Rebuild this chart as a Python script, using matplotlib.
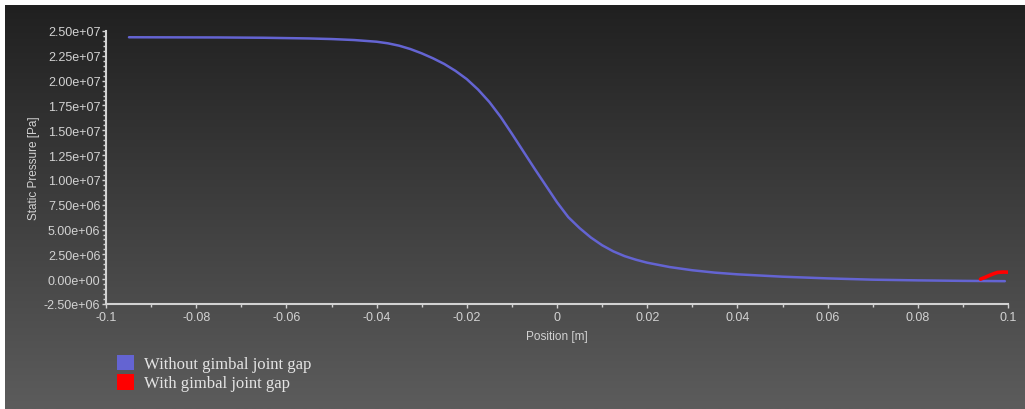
import matplotlib.pyplot as plt
import numpy as np
from matplotlib.colors import LinearSegmentedColormap
from matplotlib.patches import Patch
from matplotlib.ticker import AutoMinorLocator, FormatStrFormatter, MultipleLocator

# static pressure along the nozzle axis
POS_NO_GAP = [-0.0949, -0.085, -0.075, -0.065, -0.055, -0.05, -0.045, -0.04, -0.0375,
              -0.035, -0.0325, -0.03, -0.0275, -0.025, -0.0225, -0.02, -0.0175,
              -0.015, -0.0125, -0.01, -0.0075, -0.005, -0.0025, 0.0, 0.0025, 0.005,
              0.0075, 0.01, 0.0125, 0.015, 0.0175, 0.02, 0.025, 0.03, 0.035, 0.04,
              0.05, 0.06, 0.07, 0.08, 0.09, 0.0993]
P_NO_GAP = [2.437e7, 2.436e7, 2.435e7, 2.432e7, 2.425e7, 2.419e7, 2.409e7, 2.392e7,
            2.376e7, 2.352e7, 2.318e7, 2.275e7, 2.225e7, 2.168e7, 2.098e7, 2.015e7,
            1.91e7, 1.785e7, 1.635e7, 1.465e7, 1.29e7, 1.115e7, 0.945e7, 0.775e7,
            0.625e7, 0.515e7, 0.42e7, 0.342e7, 0.28e7, 0.232e7, 0.196e7, 0.166e7,
            0.122e7, 0.09e7, 0.066e7, 0.049e7, 0.025e7, 0.008e7, -0.005e7,
            -0.012e7, -0.017e7, -0.02e7]

POS_GAP = [0.0939, 0.0950, 0.0960, 0.0970, 0.0977, 0.0990, 0.1002]
P_GAP = [0.0e6, 0.2e6, 0.4e6, 0.58e6, 0.68e6, 0.72e6, 0.70e6]

LABELS = ['Without gimbal joint gap', 'With gimbal joint gap']
COLORS = ['#6464d2', '#ff0000']

fg = '#d2d2d2'
plt.rcParams['font.family'] = ['Liberation Sans', 'DejaVu Sans']

fig = plt.figure(figsize=(10.25, 4.1), dpi=100)
fig.patch.set_facecolor('white')

# gradient background, leaving the thin white strip at top and left
bg = fig.add_axes([5 / 1025, 0, 1 - 5 / 1025, 1 - 6 / 410], zorder=-10)
grad = np.linspace(0, 1, 256).reshape(-1, 1)
bg.imshow(grad, aspect='auto', extent=[0, 1, 0, 1],
          cmap=LinearSegmentedColormap.from_list('bg', ['#202020', '#5c5c5c']))
bg.set_axis_off()

ax = fig.add_axes([106 / 1025, 105 / 410, 902 / 1025, 273 / 410])
ax.set_facecolor('none')

ax.plot(POS_NO_GAP, P_NO_GAP, color=COLORS[0], lw=1.8, solid_capstyle='round',
        solid_joinstyle='round')
ax.plot(POS_GAP, P_GAP, color=COLORS[1], lw=2.6, solid_capstyle='round')

ax.set_xlim(-0.1, 0.1)
ax.set_ylim(-2.5e6, 2.5e7)
ax.xaxis.set_major_locator(MultipleLocator(0.02))
ax.xaxis.set_minor_locator(AutoMinorLocator(2))
ax.yaxis.set_major_locator(MultipleLocator(2.5e6))
ax.yaxis.set_minor_locator(AutoMinorLocator(5))
ax.yaxis.set_major_formatter(FormatStrFormatter('%.2e'))
ax.set_xticks(np.arange(-0.1, 0.1001, 0.02))
ax.set_xticklabels(['-0.1', '-0.08', '-0.06', '-0.04', '-0.02', '0',
                    '0.02', '0.04', '0.06', '0.08', '0.1'])

for s in ['top', 'right']:
    ax.spines[s].set_visible(False)
for s in ['left', 'bottom']:
    ax.spines[s].set_color(fg)
    ax.spines[s].set_linewidth(1.5)

ax.tick_params(axis='both', which='major', colors=fg, labelsize=9, length=3, width=1)
ax.tick_params(axis='both', which='minor', colors=fg, length=2, width=1)
ax.tick_params(axis='y', which='major', pad=1)
ax.tick_params(axis='x', which='both', direction='out', pad=2)

ax.set_xlabel('Position [m]', color=fg, fontsize=8.5, labelpad=5)
ax.set_ylabel('Static Pressure [Pa]', color=fg, fontsize=8.5, labelpad=3)

handles = [Patch(facecolor=c, edgecolor='none') for c in COLORS]
leg = fig.legend(handles, LABELS, loc='upper left', bbox_to_anchor=(110 / 1025, 1 - 349 / 410),
                 frameon=False, handlelength=1.05, handleheight=1.05, handletextpad=0.6,
                 labelspacing=0.12, borderaxespad=0,
                 prop={'family': ['Liberation Serif', 'DejaVu Serif'], 'size': 12})
for t in leg.get_texts():
    t.set_color('#e4e4e4')

fig.savefig('out.png', dpi=100)
